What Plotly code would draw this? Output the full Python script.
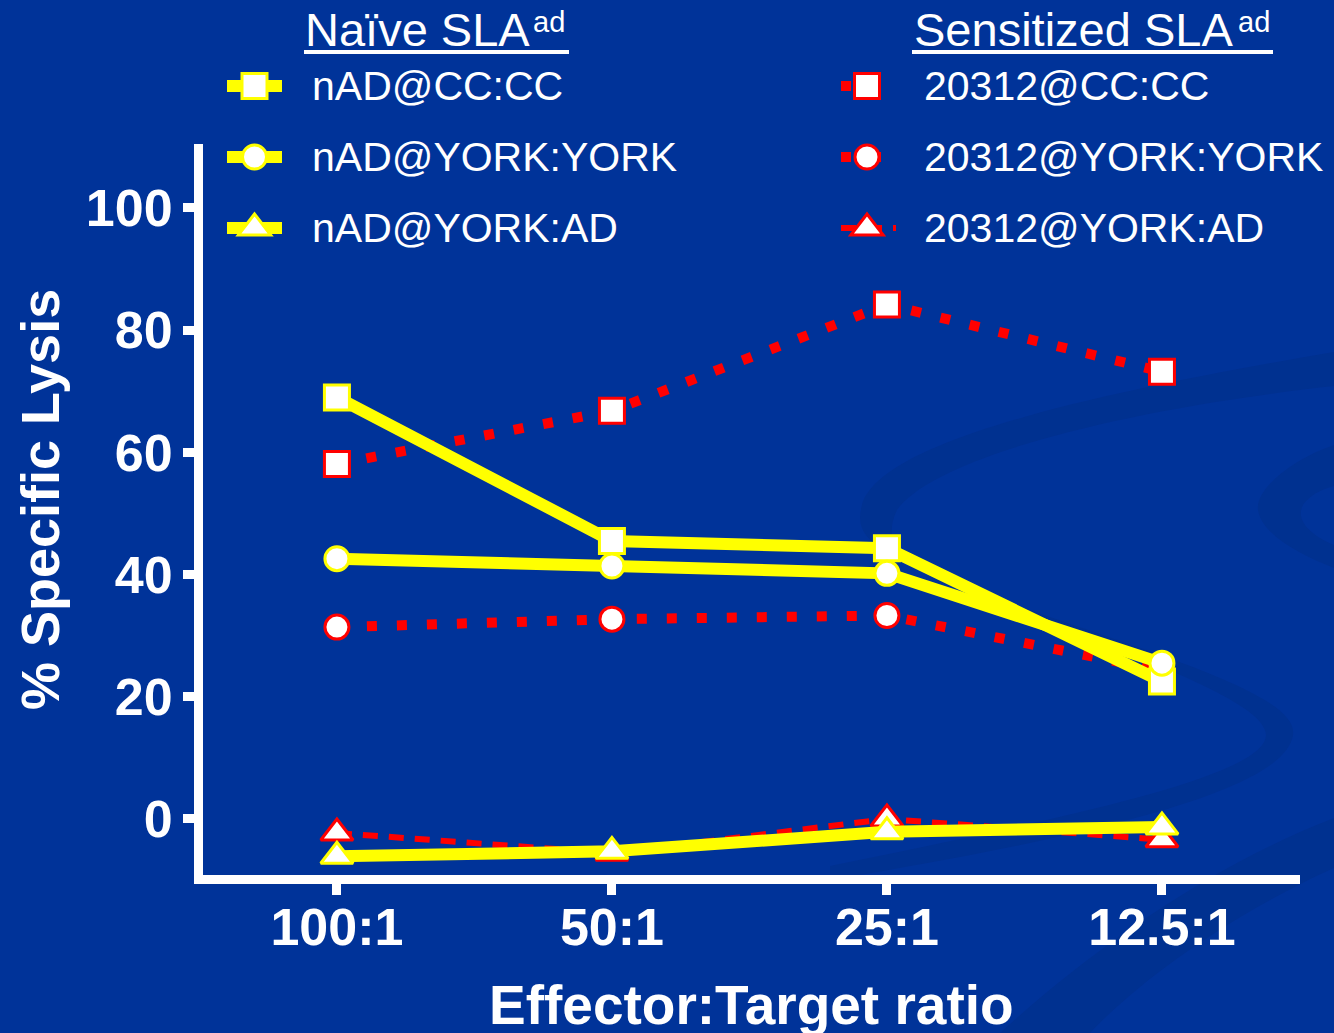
import math
import plotly.graph_objects as go

# ---- data -------------------------------------------------------------
categories = ["100:1", "50:1", "25:1", "12.5:1"]

naive_cc = [69.0, 45.5, 44.3, 22.5]
naive_york = [42.6, 41.4, 40.2, 25.5]
naive_ad = [-6.1, -5.3, -2.1, -1.3]

sens_cc = [58.1, 66.8, 84.2, 73.2]
sens_york = [31.4, 32.7, 33.3, 24.3]
sens_ad = [-2.3, -5.6, 0.0, -3.4]

naive_labels = ["nAD@CC:CC", "nAD@YORK:YORK", "nAD@YORK:AD"]
sens_labels = ["20312@CC:CC", "20312@YORK:YORK", "20312@YORK:AD"]
naive_header = ("Naïve SLA", "ad")
sens_header = ("Sensitized SLA", "ad")

y_ticks = [0, 20, 40, 60, 80, 100]

# ---- styling ----------------------------------------------------------
BG = "#003399"
SWOOSH = "#003190"
YELLOW = "#FFFF00"
RED = "#FF0000"
WHITE = "#FFFFFF"
FONT = "Liberation Sans, Arial, sans-serif"

W, H = 1334, 1033
M_L, M_R, M_T, M_B = 203, 34, 144, 158
PW = W - M_L - M_R
PH = H - M_T - M_B

MARKER_SIZE = {"square": 25, "circle": 24, "triangle-up": 28}


def px(x):
    return (x - M_L) / PW


def py(y):
    return (H - M_B - y) / PH


def path(cmds):
    out = []
    for op, pts in cmds:
        coords = " ".join(f"{px(x):.5f},{py(y):.5f}" for x, y in pts)
        out.append(op + coords)
    return " ".join(out) + " Z"


# series: values, colour, dash, line width, symbol, legend text
sens_series = [
    (sens_cc, RED, "10px,20px", 10, "square", sens_labels[0]),
    (sens_york, RED, "10px,20px", 10, "circle", sens_labels[1]),
    (sens_ad, RED, "15px,11px", 6, "triangle-up", sens_labels[2]),
]
naive_series = [
    (naive_cc, YELLOW, "solid", 12, "square", naive_labels[0]),
    (naive_york, YELLOW, "solid", 12, "circle", naive_labels[1]),
    (naive_ad, YELLOW, "solid", 12, "triangle-up", naive_labels[2]),
]

fig = go.Figure()

draw_order = sens_series + [naive_series[2], naive_series[0], naive_series[1]]
for vals, col, dash, lw, sym, name in draw_order:
    fig.add_trace(go.Scatter(
        x=categories, y=vals, name=name, mode="lines+markers",
        line=dict(color=col, width=lw, dash=dash),
        marker=dict(symbol=sym, size=MARKER_SIZE[sym], color=WHITE,
                    line=dict(color=col, width=3)),
        cliponaxis=False, showlegend=False,
    ))

shapes = []

# decorative background ribbons
ribbon = dict(type="path", xref="paper", yref="paper", layer="below",
              fillcolor=SWOOSH, line=dict(width=0))
shapes.append(dict(ribbon, path=path([
    ("M", [(1334, 352)]),
    ("C", [(1100, 392), (880, 440), (862, 505)]),
    ("C", [(852, 540), (880, 552), (960, 585)]),
    ("C", [(1120, 645), (1300, 690), (1293, 735)]),
    ("C", [(1285, 790), (1100, 835), (830, 880)]),
    ("L", [(830, 866)]),
    ("C", [(1080, 815), (1266, 775), (1266, 735)]),
    ("C", [(1266, 700), (1120, 650), (960, 590)]),
    ("C", [(905, 568), (880, 545), (897, 510)]),
    ("C", [(930, 462), (1100, 412), (1334, 386)]),
])))
shapes.append(dict(ribbon, path=path([
    ("M", [(1334, 445)]),
    ("C", [(1290, 460), (1255, 490), (1258, 510)]),
    ("C", [(1262, 535), (1300, 555), (1334, 568)]),
    ("L", [(1334, 545)]),
    ("C", [(1310, 535), (1295, 520), (1303, 505)]),
    ("C", [(1310, 495), (1320, 490), (1334, 486)]),
])))
shapes.append(dict(ribbon, path=path([
    ("M", [(1000, 1033)]),
    ("C", [(1080, 960), (1200, 870), (1334, 818)]),
    ("L", [(1334, 868)]),
    ("C", [(1230, 915), (1140, 980), (1090, 1033)]),
])))


def key_marker(cx, cy, sym, edge):
    base = dict(xref="paper", yref="paper", layer="above",
                fillcolor=WHITE, line=dict(color=edge, width=3))
    if sym == "square":
        h = MARKER_SIZE[sym] / 2
        return dict(type="rect", x0=px(cx - h), x1=px(cx + h),
                    y0=py(cy + h), y1=py(cy - h), **base)
    if sym == "circle":
        h = MARKER_SIZE[sym] / 2
        return dict(type="circle", x0=px(cx - h), x1=px(cx + h),
                    y0=py(cy + h), y1=py(cy - h), **base)
    r = MARKER_SIZE[sym] / 2
    rt = r * 2 / math.sqrt(3)
    return dict(type="path", path=path([
        ("M", [(cx - rt, cy + r / 2)]),
        ("L", [(cx + rt, cy + r / 2)]),
        ("L", [(cx, cy - r)]),
    ]), **base)


annotations = []
row_y = [86, 157, 228]
legend_font = dict(family=FONT, size=41, color=WHITE)

# legend: naive column
for (vals, col, dash, lw, sym, name), ry in zip(naive_series, row_y):
    shapes.append(dict(type="line", xref="paper", yref="paper", layer="above",
                       x0=px(227), x1=px(282), y0=py(ry), y1=py(ry),
                       line=dict(color=col, width=lw, dash=dash)))
    shapes.append(key_marker(254.5, ry, sym, col))
    annotations.append(dict(text=name, x=px(310), y=py(ry), xref="paper", yref="paper",
                            xanchor="left", yanchor="middle", showarrow=False,
                            font=legend_font))

# legend: sensitized column
for (vals, col, dash, lw, sym, name), ry in zip(sens_series, row_y):
    x_end = 896 if dash.startswith("15") else 893
    shapes.append(dict(type="line", xref="paper", yref="paper", layer="above",
                       x0=px(841), x1=px(x_end), y0=py(ry), y1=py(ry),
                       line=dict(color=col, width=lw, dash=dash)))
    shapes.append(key_marker(867, ry, sym, col))
    annotations.append(dict(text=name, x=px(922), y=py(ry), xref="paper", yref="paper",
                            xanchor="left", yanchor="middle", showarrow=False,
                            font=legend_font))

# legend group headers: main text, raised "ad" and an underline
for (main, sup), x_main, x_sup, x0, x1 in [
    (naive_header, 303, 531, 304, 569),
    (sens_header, 912, 1236, 912, 1273),
]:
    annotations.append(dict(text=main, x=px(x_main), y=py(29), xref="paper", yref="paper",
                            xanchor="left", yanchor="middle", showarrow=False,
                            font=dict(family=FONT, size=47, color=WHITE)))
    annotations.append(dict(text=sup, x=px(x_sup), y=py(22), xref="paper", yref="paper",
                            xanchor="left", yanchor="middle", showarrow=False,
                            font=dict(family=FONT, size=29, color=WHITE)))
    shapes.append(dict(type="line", xref="paper", yref="paper", layer="above",
                       x0=px(x0), x1=px(x1), y0=py(52), y1=py(52),
                       line=dict(color=WHITE, width=4)))

# axis titles
annotations.append(dict(text="% Specific Lysis", x=px(40), y=py(500), xref="paper", yref="paper",
                        xanchor="center", yanchor="middle", textangle=-90, showarrow=False,
                        font=dict(family=FONT, size=54, color=WHITE, weight="bold")))
annotations.append(dict(text="Effector:Target ratio", x=px(751), y=py(1005), xref="paper", yref="paper",
                        xanchor="center", yanchor="middle", showarrow=False,
                        font=dict(family=FONT, size=55, color=WHITE, weight="bold")))

tick_font = dict(family=FONT, size=52, color=WHITE, weight="bold")

fig.update_layout(
    width=W, height=H,
    margin=dict(l=M_L, r=M_R, t=M_T, b=M_B, pad=0),
    paper_bgcolor=BG, plot_bgcolor="rgba(0,0,0,0)",
    shapes=shapes, annotations=annotations,
    xaxis=dict(type="category", range=[-0.487, 3.502], showgrid=False, zeroline=False,
               showline=True, linecolor=WHITE, linewidth=9,
               ticks="outside", ticklen=11, tickwidth=9, tickcolor=WHITE,
               tickfont=tick_font, ticklabelstandoff=-12),
    yaxis=dict(range=[-9.17, 110.47], tickvals=y_ticks, showgrid=False, zeroline=False,
               showline=True, linecolor=WHITE, linewidth=9,
               ticks="outside", ticklen=11, tickwidth=9, tickcolor=WHITE,
               tickfont=tick_font),
)

fig.write_html("out.html")
